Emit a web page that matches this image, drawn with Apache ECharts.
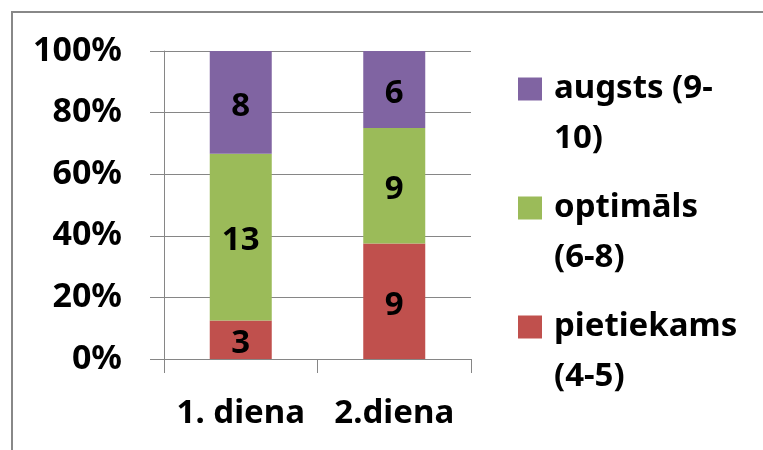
<!DOCTYPE html>
<html>
<head>
<meta charset="utf-8">
<script src="https://cdn.jsdelivr.net/npm/echarts@6/dist/echarts.min.js"></script>
<style>
html,body{margin:0;padding:0;background:#fff;}
#chart{width:763px;height:450px;}
</style>
</head>
<body>
<div id="chart"></div>
<script>
var categories = ['1. diena', '2.diena'];
var seriesNames = ['pietiekams\n(4-5)', 'optimāls\n(6-8)', 'augsts (9-\n10)'];
var pietiekams = [3, 9];
var optimals = [13, 9];
var augsts = [8, 6];
var colors = ['#C0504D', '#9BBB59', '#8064A2'];

var FONT = 'Noto Sans';
var FS = 33;
var LH = 50;
var groups = [pietiekams, optimals, augsts];
var totals = categories.map(function (c, i) {
  return groups.reduce(function (s, g) { return s + g[i]; }, 0);
});

function toPct(arr) {
  return arr.map(function (v, i) { return { value: v / totals[i] * 100, raw: v }; });
}

var series = groups.map(function (g, k) {
  return {
    name: seriesNames[k],
    type: 'bar',
    stack: 'total',
    barWidth: 62,
    data: toPct(g),
    itemStyle: { color: colors[k] },
    label: {
      show: true,
      position: 'inside',
      offset: [0, 4],
      color: '#000',
      fontFamily: FONT,
      fontWeight: 'bold',
      fontSize: FS,
      formatter: function (p) { return p.data.raw; }
    }
  };
});

var chart = echarts.init(document.getElementById('chart'), null, { renderer: 'canvas' });
chart.setOption({
  animation: false,
  backgroundColor: '#fff',
  graphic: [{
    type: 'rect',
    shape: { x: 12, y: 12, width: 800, height: 500 },
    style: { fill: 'none', stroke: '#888888', lineWidth: 2 },
    silent: true
  }],
  grid: { left: 164, right: 292, top: 51, bottom: 91, containLabel: false },
  legend: {
    orient: 'vertical',
    left: 518,
    top: 14,
    padding: 0,
    itemGap: -31,
    itemWidth: 24,
    itemHeight: 23,
    icon: 'rect',
    data: [seriesNames[2], seriesNames[1], seriesNames[0]],
    formatter: function (name) {
      return name.split('\n').map(function (s) { return '{a|' + s + '}'; }).join('\n');
    },
    textStyle: {
      fontFamily: FONT,
      fontWeight: 'bold',
      fontSize: FS,
      color: '#000',
      lineHeight: LH,
      padding: [LH, 0, 0, 7],
      backgroundColor: 'rgba(0,0,0,0)',
      rich: {
        a: { fontFamily: FONT, fontWeight: 'bold', fontSize: FS, color: '#000', lineHeight: LH }
      }
    }
  },
  xAxis: {
    type: 'category',
    data: categories,
    axisLine: { show: true, lineStyle: { color: '#868686', width: 1 } },
    axisTick: { show: true, length: 14, alignWithLabel: false, lineStyle: { color: '#868686' } },
    axisLabel: { margin: 38, color: '#000', fontFamily: FONT, fontWeight: 'bold', fontSize: FS, interval: 0 },
    splitLine: { show: false }
  },
  yAxis: {
    type: 'value',
    min: 0,
    max: 100,
    interval: 20,
    axisLine: { show: true, lineStyle: { color: '#868686', width: 1 } },
    axisTick: { show: true, length: 14, lineStyle: { color: '#868686' } },
    axisLabel: { margin: 42, color: '#000', fontFamily: FONT, fontWeight: 'bold', fontSize: 34, formatter: '{value}%' },
    splitLine: { show: true, lineStyle: { color: '#868686', width: 1 } }
  },
  series: series
});
</script>
</body>
</html>
